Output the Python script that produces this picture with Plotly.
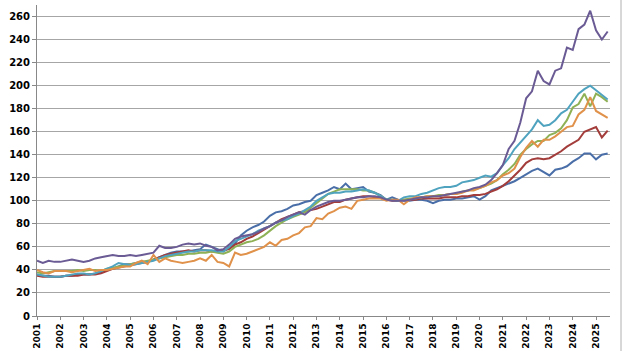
import plotly.graph_objects as go

years = list(range(2001, 2026))
tick_labels = [str(y) for y in years]

# quarterly values, 2001Q1 .. 2025Q3
blue = [36, 35, 35, 34, 34, 35, 35, 36, 36, 36, 37, 38, 40, 41, 43, 45, 45, 46, 47, 47,
        49, 51, 53, 55, 56, 56, 56, 57, 58, 62, 60, 58, 56, 59, 63, 70, 74, 77, 79, 82,
        87, 90, 91, 93, 96, 97, 99, 100, 105, 107, 109, 112, 110, 115, 110, 111, 112, 108, 107, 105,
        101, 103, 101, 100, 100, 101, 101, 100, 98, 100, 101, 101, 102, 102, 103, 104, 101, 104, 109, 111,
        113, 115, 117, 120, 123, 126, 128, 125, 122, 127, 128, 130, 134, 137, 141, 141, 136, 140, 141]
red = [35, 34, 34, 34, 34, 35, 35, 35, 36, 36, 36, 37, 39, 41, 42, 43, 44, 45, 46, 47,
       49, 51, 53, 54, 55, 56, 57, 56, 57, 57, 56, 56, 57, 58, 62, 64, 67, 69, 72, 75,
       78, 81, 84, 86, 88, 90, 91, 92, 93, 95, 97, 99, 99, 101, 102, 103, 104, 104, 103, 103,
       101, 100, 100, 101, 101, 101, 102, 102, 102, 102, 103, 103, 103, 104, 104, 105, 105, 106, 108, 110,
       113, 117, 122, 127, 133, 136, 137, 136, 137, 140, 143, 147, 150, 153, 160, 162, 164, 155, 161]
green = [38, 37, 38, 39, 39, 39, 39, 40, 39, 40, 40, 39, 41, 42, 43, 44, 45, 46, 47, 48,
         49, 50, 51, 52, 53, 53, 54, 54, 55, 55, 56, 55, 54, 56, 60, 62, 64, 65, 67, 70,
         74, 78, 81, 84, 86, 88, 90, 94, 98, 102, 106, 108, 110, 110, 110, 110, 109, 109, 107, 104,
         101, 101, 100, 101, 102, 102, 103, 104, 104, 105, 105, 106, 106, 108, 109, 110, 111, 113, 115, 118,
         123, 127, 132, 140, 145, 149, 152, 152, 157, 159, 163, 170, 181, 184, 193, 182, 193, 190, 186]
purple = [48, 46, 48, 47, 47, 48, 49, 48, 47, 48, 50, 51, 52, 53, 52, 52, 53, 52, 53, 54,
          55, 61, 59, 59, 60, 62, 63, 62, 63, 61, 60, 57, 58, 62, 67, 69, 70, 71, 73, 76,
          78, 81, 83, 86, 88, 90, 88, 92, 95, 97, 99, 100, 100, 101, 102, 103, 103, 104, 104, 103,
          101, 100, 100, 100, 101, 102, 103, 103, 104, 104, 105, 106, 107, 108, 109, 111, 112, 114, 118, 124,
          131, 145, 152, 168, 189, 195, 213, 204, 201, 213, 215, 233, 231, 249, 253, 265, 248, 240, 247]
teal = [36, 35, 34, 34, 34, 35, 36, 37, 37, 36, 37, 39, 41, 43, 46, 45, 44, 45, 46, 47,
        48, 50, 52, 53, 54, 55, 56, 56, 57, 57, 57, 56, 56, 60, 65, 67, 69, 71, 74, 76,
        78, 81, 83, 84, 87, 89, 92, 95, 100, 103, 106, 107, 107, 108, 108, 109, 110, 109, 107, 104,
        101, 101, 100, 103, 104, 104, 106, 107, 109, 111, 112, 112, 113, 116, 117, 118, 120, 122, 121, 124,
        131, 137, 145, 151, 157, 162, 170, 165, 166, 170, 176, 179, 186, 193, 197, 200, 196, 192, 188]
orange = [40, 38, 37, 39, 39, 39, 38, 39, 40, 41, 39, 40, 40, 41, 42, 43, 43, 46, 48, 45,
          53, 47, 50, 48, 47, 46, 47, 48, 50, 48, 53, 47, 46, 43, 55, 53, 54, 56, 58, 60,
          64, 61, 66, 67, 70, 72, 77, 78, 85, 84, 89, 91, 94, 95, 93, 100, 101, 102, 102, 102,
          100, 101, 101, 97, 101, 103, 103, 104, 104, 104, 105, 106, 106, 107, 109, 109, 111, 113, 116, 118,
          122, 124, 128, 138, 146, 152, 147, 153, 153, 156, 160, 164, 165, 175, 179, 190, 178, 175, 172]

x = [2001 + i / 4 for i in range(len(blue))]

series = [
    ("blue", blue, "#4A6FA8"),
    ("red", red, "#A33D3B"),
    ("green", green, "#8FB155"),
    ("teal", teal, "#4FA3BF"),
    ("orange", orange, "#E0914A"),
    ("purple", purple, "#6B5B95"),
]

fig = go.Figure()
for name, vals, col in series:
    fig.add_trace(go.Scatter(x=x, y=vals, mode="lines", name=name,
                             line=dict(color=col, width=2), showlegend=False))

yfont = dict(family="DejaVu Sans", size=10, color="#000000", weight="bold")
xfont = dict(family="DejaVu Sans", size=9, color="#000000", weight="bold")

fig.update_layout(
    width=624, height=351,
    margin=dict(l=37, r=14, t=5, b=35),
    paper_bgcolor="white", plot_bgcolor="white",
    xaxis=dict(range=[2001, 2025.6], tickmode="array", tickvals=years, ticktext=tick_labels,
               tickangle=-90, tickfont=xfont, showgrid=False, zeroline=False, automargin=False,
               showline=True, linecolor="#888888", linewidth=1,
               ticks="outside", ticklen=3, tickcolor="#888888"),
    yaxis=dict(range=[0, 270], tickmode="array", tickvals=list(range(0, 261, 20)),
               tickfont=yfont, showgrid=True, gridcolor="#A6A6A6", gridwidth=1, automargin=False,
               zeroline=False, showline=True, linecolor="#888888", linewidth=1,
               ticks="outside", ticklen=4, tickcolor="#888888"),
    shapes=[dict(type="line", xref="paper", yref="paper",
                 x0=(621 - 37) / (610 - 37), x1=(621 - 37) / (610 - 37),
                 y0=-0.2, y1=1.02, line=dict(color="#B0B0B0", width=1))],
)

fig.write_html("out.html")
